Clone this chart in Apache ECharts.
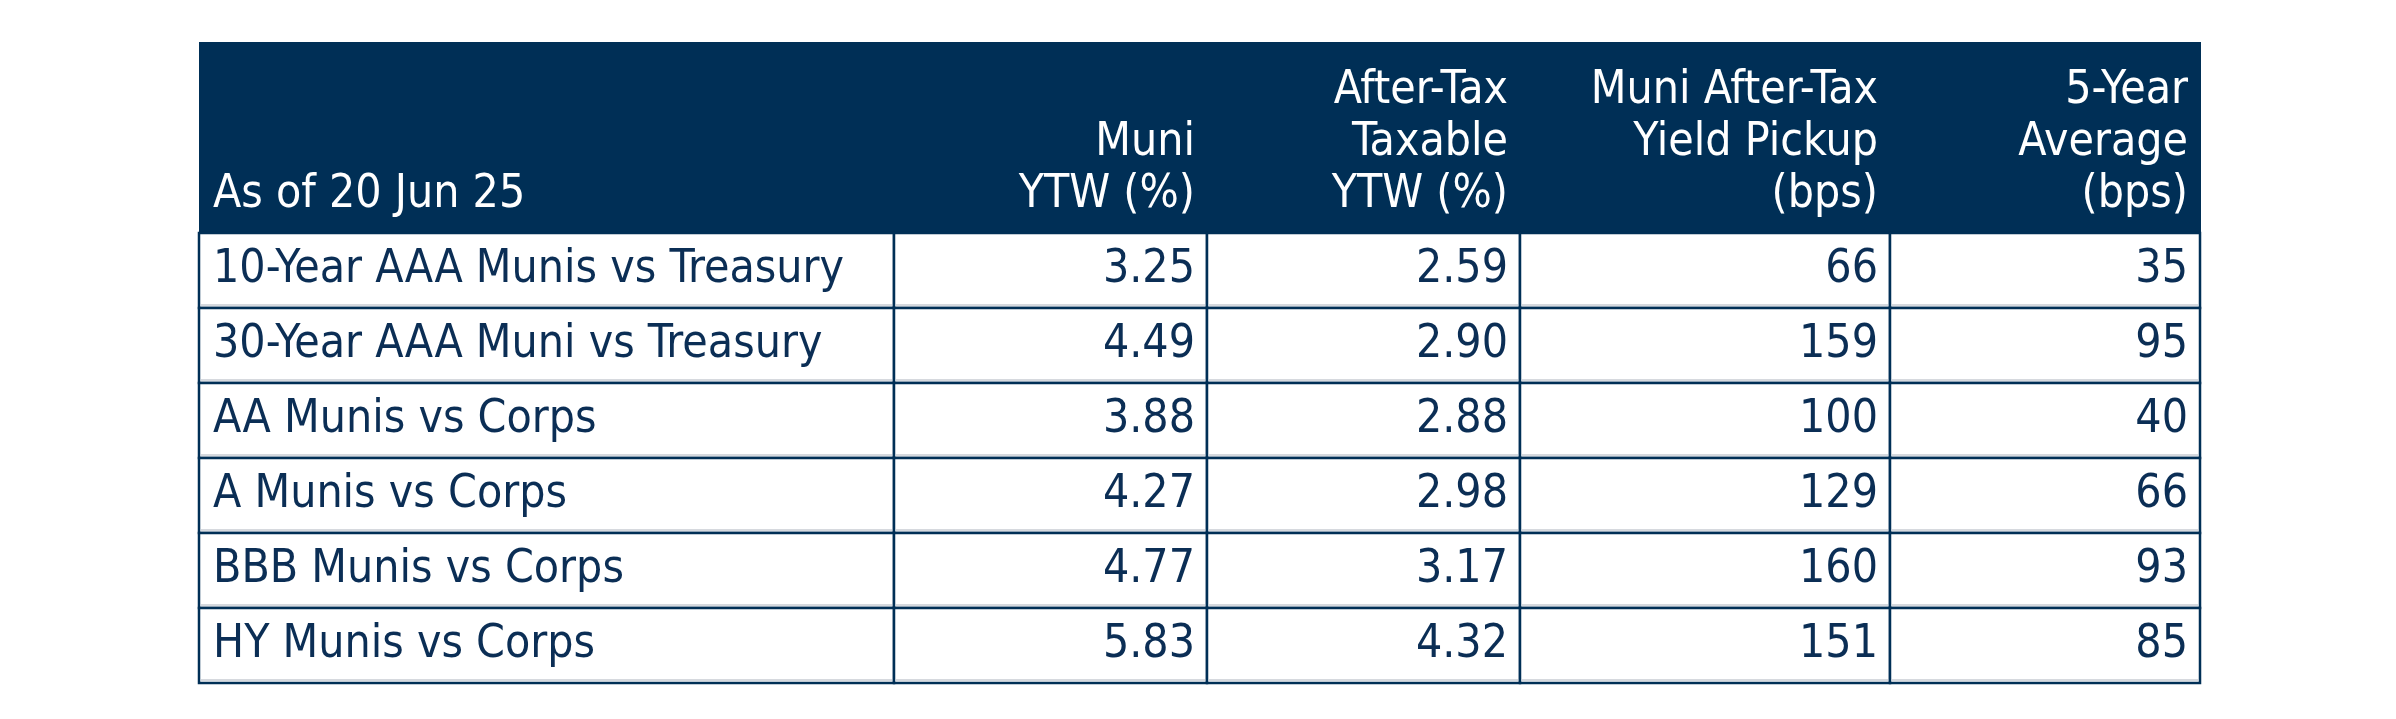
<!DOCTYPE html>
<html><head><meta charset="utf-8">
<script src="https://cdn.jsdelivr.net/npm/echarts@6/dist/echarts.min.js"></script>
<style>html,body{margin:0;padding:0;background:#fff}#c{width:2396px;height:719px}</style>
</head><body><div id="c"></div>
<script>
const headers = ["As of 20 Jun 25", "Muni\nYTW (%)", "After-Tax\nTaxable\nYTW (%)", "Muni After-Tax\nYield Pickup\n(bps)", "5-Year\nAverage\n(bps)"];
const categories = ["10-Year AAA Munis vs Treasury", "30-Year AAA Muni vs Treasury", "AA Munis vs Corps", "A Munis vs Corps", "BBB Munis vs Corps", "HY Munis vs Corps"];
const muniYTW = ["3.25", "4.49", "3.88", "4.27", "4.77", "5.83"];
const afterTaxYTW = ["2.59", "2.90", "2.88", "2.98", "3.17", "4.32"];
const pickup = ["66", "159", "100", "129", "160", "151"];
const avg5 = ["35", "95", "40", "66", "93", "85"];

// layout (pixel units on value axes)
const colEdges = [199, 894, 1207, 1520, 1890, 2200];
const TOP = 42, HEAD_B = 233, ROW_H = 75;
const NAVY = '#002F56', TXT = '#0B2E55';
const FONT = '"Liberation Sans Narrow","DejaVu Sans Condensed",sans-serif';

const cols = [categories, muniYTW, afterTaxYTW, pickup, avg5];
const data = [];
headers.forEach((h, c) => data.push([c, -1, h]));
for (let r = 0; r < categories.length; r++) for (let c = 0; c < 5; c++) data.push([c, r, cols[c][r]]);

function renderItem(params, api) {
  const c = api.value(0), r = api.value(1), t = data[params.dataIndex][2];
  const x0 = colEdges[c], x1 = colEdges[c + 1];
  const y0 = r < 0 ? TOP : HEAD_B + r * ROW_H, y1 = r < 0 ? HEAD_B : y0 + ROW_H;
  const p0 = api.coord([x0, y0]), p1 = api.coord([x1, y1]);
  const left = c === 0;
  const children = [];
  if (r < 0) {
    children.push({type: 'rect', shape: {x: p0[0], y: p0[1], width: p1[0] - p0[0] + 1, height: p1[1] - p0[1]}, style: {fill: NAVY}});
    children.push({type: 'text', style: {text: t, x: left ? p0[0] + 14 : p1[0] - 12, y: p1[1] - 12,
      align: left ? 'left' : 'right', verticalAlign: 'bottom', fill: '#fff', font: '46px ' + FONT, lineHeight: 52}});
  } else {
    children.push({type: 'rect', shape: {x: p0[0], y: p0[1], width: p1[0] - p0[0], height: p1[1] - p0[1]}, style: {fill: '#fff', stroke: NAVY, lineWidth: 2.5}});
    children.push({type: 'line', shape: {x1: p0[0] + 2, y1: p1[1] - 3, x2: p1[0] - 2, y2: p1[1] - 3}, style: {stroke: '#d6d9de', lineWidth: 2}});
    children.push({type: 'text', style: {text: t, x: left ? p0[0] + 14 : p1[0] - 12, y: (p0[1] + p1[1]) / 2,
      align: left ? 'left' : 'right', verticalAlign: 'middle', fill: TXT, font: '46px ' + FONT}});
  }
  return {type: 'group', children};
}

const chart = echarts.init(document.getElementById('c'));
chart.setOption({
  animation: false,
  grid: {left: 0, right: 0, top: 0, bottom: 0},
  xAxis: {type: 'value', min: 0, max: 2396, show: false},
  yAxis: {type: 'value', min: 0, max: 719, inverse: true, show: false},
  series: [{type: 'custom', renderItem, data: data.map(d => [d[0], d[1]]), encode: {x: 0, y: 1}, clip: false}]
});
</script></body></html>
